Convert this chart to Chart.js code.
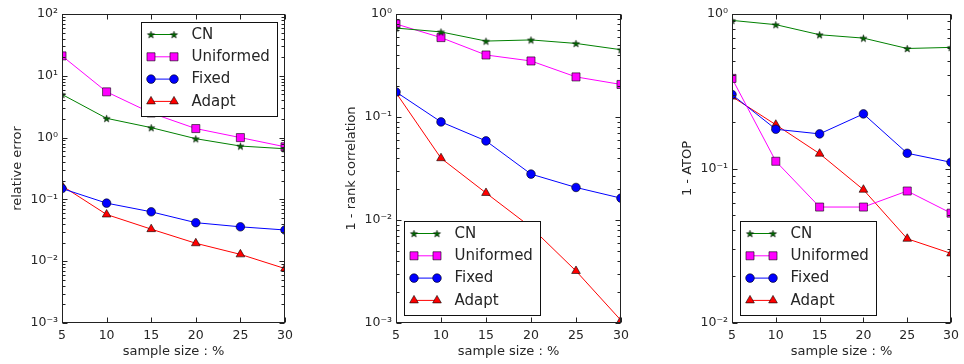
<!DOCTYPE html>
<html>
<head>
<meta charset="utf-8">
<script src="https://cdn.jsdelivr.net/npm/chart.js@4.4.1/dist/chart.umd.min.js"></script>
<style>
  body { margin: 0; background: #fff; }
  canvas { position: absolute; top: 0; }
</style>
</head>
<body>
<canvas id="c1" width="334" height="364" style="left:0px"></canvas>
<canvas id="c2" width="336" height="364" style="left:334px"></canvas>
<canvas id="c3" width="294" height="364" style="left:670px"></canvas>
<script>
// data
const sampleSizes = [5, 10, 15, 20, 25, 30];
const methodNames = ['CN', 'Uniformed', 'Fixed', 'Adapt'];

const errCN        = [5.0, 2.05, 1.45, 0.96, 0.73, 0.66];
const errUniformed = [21, 5.5, 2.5, 1.4, 1.0, 0.71];
const errFixed     = [0.15, 0.087, 0.063, 0.042, 0.036, 0.032];
const errAdapt     = [0.166, 0.057, 0.033, 0.0195, 0.0129, 0.0076];

const rankCN        = [0.73, 0.67, 0.546, 0.56, 0.518, 0.45];
const rankUniformed = [0.80, 0.59, 0.40, 0.35, 0.245, 0.207];
const rankFixed     = [0.175, 0.0896, 0.0586, 0.0279, 0.0207, 0.0163];
const rankAdapt     = [0.172, 0.0398, 0.0183, 0.0085, 0.0032, 0.00106];

const atopCN        = [0.909, 0.853, 0.734, 0.698, 0.598, 0.608];
const atopUniformed = [0.383, 0.1114, 0.0563, 0.0563, 0.0715, 0.0514];
const atopFixed     = [0.301, 0.1795, 0.1675, 0.2256, 0.1255, 0.1097];
const atopAdapt     = [0.292, 0.192, 0.1247, 0.0729, 0.0351, 0.0282];

const xTitle = 'sample size : %';
const yTitles = ['relative error', '1 - rank correlation', '1 - ATOP'];
const yExpRanges = [[-3, 2], [-3, 0], [-2, 0]];

const FONT = 'DejaVu Sans';
const TEXT = '#262626';

const SUP = {'-': '\u207B', '0': '\u2070', '1': '\u00B9', '2': '\u00B2', '3': '\u00B3'};
const sup = s => String(s).split('').map(c => SUP[c]).join('');

function makeStar(fill, r) {
  const c = document.createElement('canvas');
  const s = Math.ceil(r * 2 + 3);
  c.width = c.height = s;
  const g = c.getContext('2d');
  g.beginPath();
  for (let i = 0; i < 10; i++) {
    const rad = i % 2 ? r * 0.4 : r;
    const a = -Math.PI / 2 + i * Math.PI / 5;
    g.lineTo(s / 2 + rad * Math.cos(a), s / 2 + 0.5 + rad * Math.sin(a));
  }
  g.closePath();
  g.fillStyle = fill;
  g.fill();
  g.lineWidth = 0.5;
  g.strokeStyle = '#000';
  g.stroke();
  return c;
}
const starImg = makeStar('#006a00', 3.8);

const styles = [
  {color: '#008000', fill: '#006a00', pointStyle: starImg, radius: 4},
  {color: '#ff00ff', fill: '#ff00ff', pointStyle: 'rect', radius: 5.7},
  {color: '#0000ff', fill: '#0000ff', pointStyle: 'circle', radius: 4.3},
  {color: '#ff0000', fill: '#ff0000', pointStyle: 'triangle', radius: 5}
];

function makeDatasets(series) {
  return series.map((vals, i) => ({
    label: methodNames[i],
    data: sampleSizes.map((x, j) => ({x: x, y: vals[j]})),
    borderColor: styles[i].color,
    backgroundColor: styles[i].fill,
    pointBackgroundColor: styles[i].fill,
    pointBorderColor: '#000',
    pointBorderWidth: 0.6,
    pointStyle: styles[i].pointStyle,
    pointRadius: styles[i].radius,
    borderWidth: 1,
    tension: 0,
    clip: 0
  }));
}

// frame, inside ticks and a matplotlib-like legend box
const axesDecor = {
  id: 'axesDecor',
  afterDraw(chart, args, opts) {
    const ctx = chart.ctx;
    const a = chart.chartArea;
    const xs = chart.scales.x, ys = chart.scales.y;
    ctx.save();
    ctx.strokeStyle = '#222';
    ctx.lineWidth = 1;
    const L = Math.round(a.left) + 0.5, R = Math.round(a.right) - 0.5;
    const T = Math.round(a.top) + 0.5, B = Math.round(a.bottom) - 0.5;
    ctx.strokeRect(L, T, R - L, B - T);

    ctx.beginPath();
    sampleSizes.forEach(v => {
      const px = Math.round(xs.getPixelForValue(v)) + 0.5;
      ctx.moveTo(px, B); ctx.lineTo(px, B - 5);
      ctx.moveTo(px, T); ctx.lineTo(px, T + 5);
    });
    const [e0, e1] = opts.exps;
    for (let e = e0; e <= e1; e++) {
      const py = Math.round(ys.getPixelForValue(Math.pow(10, e))) + 0.5;
      ctx.moveTo(L, py); ctx.lineTo(L + 5, py);
      ctx.moveTo(R, py); ctx.lineTo(R - 5, py);
      if (e < e1) {
        for (let m = 2; m <= 9; m++) {
          const pm = Math.round(ys.getPixelForValue(m * Math.pow(10, e))) + 0.5;
          ctx.moveTo(L, pm); ctx.lineTo(L + 3, pm);
          ctx.moveTo(R, pm); ctx.lineTo(R - 3, pm);
        }
      }
    }
    ctx.stroke();

    // legend
    const bw = 136, bh = 94;
    let bx, by;
    if (opts.corner === 'ne') { bx = a.right - 8.5 - bw; by = a.top + 8; }
    else { bx = a.left + 7.5; by = a.bottom - 8 - bh; }
    bx = Math.round(bx) + 0.5; by = Math.round(by) + 0.5;
    ctx.fillStyle = '#fff';
    ctx.fillRect(bx, by, bw, bh);
    ctx.strokeStyle = '#111';
    ctx.strokeRect(bx, by, bw, bh);
    ctx.font = '15px "' + FONT + '"';
    ctx.textBaseline = 'middle';
    ctx.textAlign = 'left';
    chart.data.datasets.forEach((ds, i) => {
      const y = by + 12 + i * 22.3;
      const x0 = bx + 9.5, x1 = bx + 32.5;
      ctx.strokeStyle = ds.borderColor;
      ctx.lineWidth = 1;
      ctx.beginPath(); ctx.moveTo(x0, y); ctx.lineTo(x1, y); ctx.stroke();
      [x0, x1].forEach(x => {
        ctx.fillStyle = ds.pointBackgroundColor;
        ctx.strokeStyle = ds.pointBorderColor;
        ctx.lineWidth = ds.pointBorderWidth;
        Chart.helpers.drawPoint(ctx, {
          pointStyle: ds.pointStyle, radius: ds.pointRadius,
          rotation: 0, borderWidth: ds.pointBorderWidth
        }, x, y);
      });
      ctx.fillStyle = TEXT;
      ctx.fillText(ds.label, bx + 50, y + 0.5);
    });
    ctx.restore();
  }
};

function buildChart(id, series, idx, rightPad, corner) {
  const [e0, e1] = yExpRanges[idx];
  const ctx = document.getElementById(id).getContext('2d');
  return new Chart(ctx, {
    type: 'line',
    data: {datasets: makeDatasets(series)},
    options: {
      responsive: false,
      animation: false,
      layout: {padding: {top: 14, right: rightPad, left: 0, bottom: 0}},
      plugins: {
        legend: {display: false},
        tooltip: {enabled: false},
        axesDecor: {exps: [e0, e1], corner: corner}
      },
      scales: {
        x: {
          type: 'linear',
          min: sampleSizes[0],
          max: sampleSizes[sampleSizes.length - 1],
          afterBuildTicks: s => { s.ticks = sampleSizes.map(v => ({value: v})); },
          afterFit: s => { s.height = 41; },
          grid: {display: false, drawTicks: false},
          border: {display: false},
          ticks: {color: TEXT, padding: 5, maxRotation: 0, font: {family: FONT, size: 12.5}},
          title: {display: true, text: xTitle, color: TEXT,
                  font: {family: FONT, size: 13}, padding: {top: 0, bottom: 4.5}}
        },
        y: {
          type: 'logarithmic',
          min: Math.pow(10, e0),
          max: Math.pow(10, e1),
          afterBuildTicks: s => {
            const t = [];
            for (let e = e0; e <= e1; e++) t.push({value: Math.pow(10, e)});
            s.ticks = t;
          },
          afterFit: s => { s.width = 62; },
          grid: {display: false, drawTicks: false},
          border: {display: false},
          ticks: {
            color: TEXT, padding: 4, font: {family: FONT, size: 12.5},
            callback: v => '10' + sup(Math.round(Math.log10(v)))
          },
          title: {display: true, text: yTitles[idx], color: TEXT,
                  font: {family: FONT, size: 13}, padding: {top: 10, bottom: 0}}
        }
      }
    },
    plugins: [axesDecor]
  });
}

window.addEventListener('load', () => {
  buildChart('c1', [errCN, errUniformed, errFixed, errAdapt], 0, 49, 'ne');
  buildChart('c2', [rankCN, rankUniformed, rankFixed, rankAdapt], 1, 49, 'sw');
  buildChart('c3', [atopCN, atopUniformed, atopFixed, atopAdapt], 2, 9, 'sw');
});
</script>
</body>
</html>
